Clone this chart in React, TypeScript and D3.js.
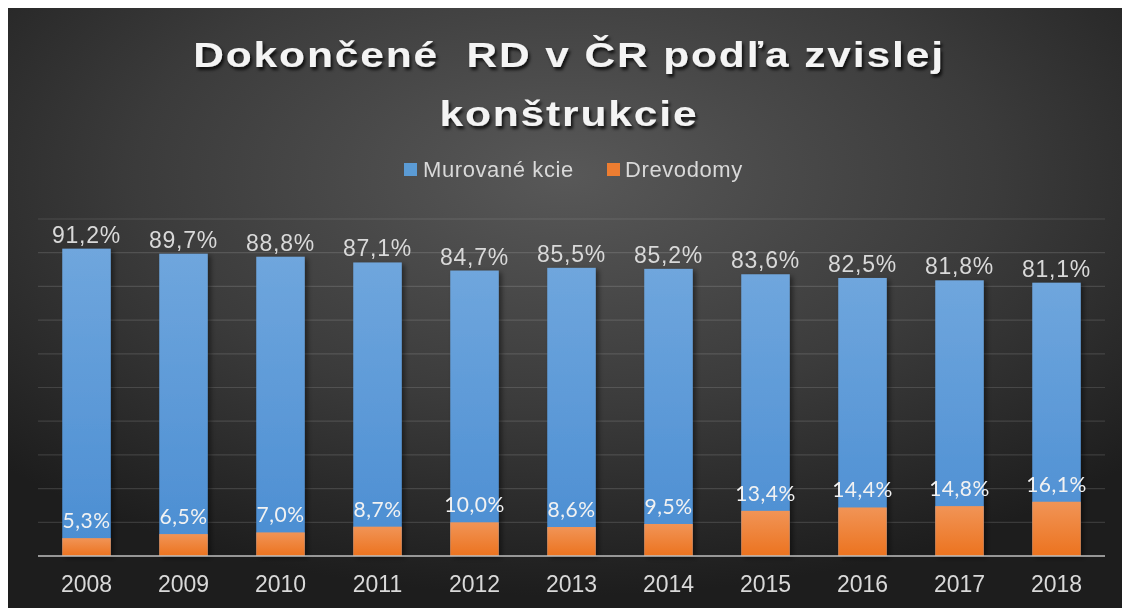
import React from 'react';
import * as d3 from 'd3';

const years = ['2008', '2009', '2010', '2011', '2012', '2013', '2014', '2015', '2016', '2017', '2018'];
const murovane = [91.2, 89.7, 88.8, 87.1, 84.7, 85.5, 85.2, 83.6, 82.5, 81.8, 81.1];
const drevodomy = [5.3, 6.5, 7.0, 8.7, 10.0, 8.6, 9.5, 13.4, 14.4, 14.8, 16.1];
const gridTicks = [0, 10, 20, 30, 40, 50, 60, 70, 80, 90, 100];
const seriesNames = ['Murované kcie', 'Drevodomy'];
const titleLines = ['Dokončené  RD v ČR podľa zvislej', 'konštrukcie'];

const W = 1114;
const H = 600;
const plot = { left: 30, right: 1097, top: 211, bottom: 548 };

const fmt = (v: number) => v.toFixed(1).replace('.', ',') + '%';

export default function App() {
  const x = d3.scaleBand<string>()
    .domain(years)
    .range([plot.left, plot.right])
    .paddingInner(0.5)
    .paddingOuter(0.25);
  const y = d3.scaleLinear().domain([0, 100]).range([plot.bottom, plot.top]);
  const bw = x.bandwidth();

  return (
    <svg width={W} height={H} style={{ display: 'block', position: 'fixed', left: 8, top: 8 }}>
      <defs>
        <radialGradient id="bg" cx="50%" cy="28%" r="70%">
          <stop offset="0%" stopColor="#585858" />
          <stop offset="55%" stopColor="#3b3b3b" />
          <stop offset="100%" stopColor="#1d1d1d" />
        </radialGradient>
        <linearGradient id="blue" x1="0" x2="0" y1="0" y2="1">
          <stop offset="0%" stopColor="#6fa6dd" />
          <stop offset="100%" stopColor="#4a8dd2" />
        </linearGradient>
        <linearGradient id="orange" x1="0" x2="0" y1="0" y2="1">
          <stop offset="0%" stopColor="#f19456" />
          <stop offset="100%" stopColor="#ec731f" />
        </linearGradient>
        <filter id="barShadow" x="-20%" y="-5%" width="150%" height="115%">
          <feDropShadow dx="3" dy="2" stdDeviation="2.5" floodColor="#000" floodOpacity="0.45" />
        </filter>
        <filter id="titleShadow" x="-5%" y="-20%" width="110%" height="150%">
          <feDropShadow dx="2" dy="3" stdDeviation="1.5" floodColor="#000" floodOpacity="0.75" />
        </filter>
      </defs>

      <rect x={0} y={0} width={W} height={H} fill="url(#bg)" />

      {/* title, a bit stretched sideways like the original */}
      <g filter="url(#titleShadow)" fill="#f4f4f4" fontFamily="'Liberation Sans', Arial, sans-serif"
        fontWeight="bold" fontSize={36} letterSpacing="1.6px" textAnchor="middle">
        {titleLines.map((t, i) => (
          <text key={t} xmlSpace="preserve" transform={`translate(561,${59 + i * 59}) scale(1.18,1)`}>{t}</text>
        ))}
      </g>

      {/* legend */}
      <g fontFamily="'Liberation Sans', Arial, sans-serif" fontSize={22} fill="#d9d9d9" letterSpacing="0.6px">
        <rect x={396} y={155} width={13} height={13} fill="#5b9bd5" />
        <text x={415} y={169}>{seriesNames[0]}</text>
        <rect x={599} y={155} width={13} height={13} fill="#ed7d31" />
        <text x={617} y={169}>{seriesNames[1]}</text>
      </g>

      {/* gridlines */}
      {gridTicks.slice(1).map(t => (
        <line key={t} x1={plot.left} x2={plot.right} y1={y(t)} y2={y(t)} stroke="#ffffff" strokeOpacity={0.13} strokeWidth={1.2} />
      ))}

      {/* bars */}
      <g filter="url(#barShadow)">
        {years.map((yr, i) => (
          <rect key={'b' + yr} x={x(yr)} y={y(murovane[i])} width={bw} height={y(0) - y(murovane[i])} fill="url(#blue)" />
        ))}
      </g>
      <g>
        {years.map((yr, i) => (
          <rect key={'o' + yr} x={x(yr)} y={y(drevodomy[i])} width={bw} height={y(0) - y(drevodomy[i])} fill="url(#orange)" />
        ))}
      </g>

      {/* axis line */}
      <line x1={plot.left} x2={plot.right} y1={y(0)} y2={y(0)} stroke="#bfbfbf" strokeWidth={1.5} />

      {/* labels */}
      <g fontFamily="'Liberation Sans', Arial, sans-serif" fontSize={23} fill="#d9d9d9" textAnchor="middle" letterSpacing="0.8px">
        {years.map((yr, i) => (
          <text key={'lb' + yr} x={(x(yr) as number) + bw / 2} y={y(murovane[i]) - 6}>{fmt(murovane[i])}</text>
        ))}
      </g>
      <g fontFamily="Lato, 'Open Sans', sans-serif" fontSize={21} fill="#f2f2f2" textAnchor="middle" letterSpacing="0.5px">
        {years.map((yr, i) => (
          <text key={'lo' + yr} x={(x(yr) as number) + bw / 2} y={y(drevodomy[i]) - 10}>{fmt(drevodomy[i])}</text>
        ))}
      </g>
      <g fontFamily="'Liberation Sans', Arial, sans-serif" fontSize={23} fill="#d9d9d9" textAnchor="middle">
        {years.map(yr => (
          <text key={'x' + yr} x={(x(yr) as number) + bw / 2} y={584}>{yr}</text>
        ))}
      </g>
    </svg>
  );
}
